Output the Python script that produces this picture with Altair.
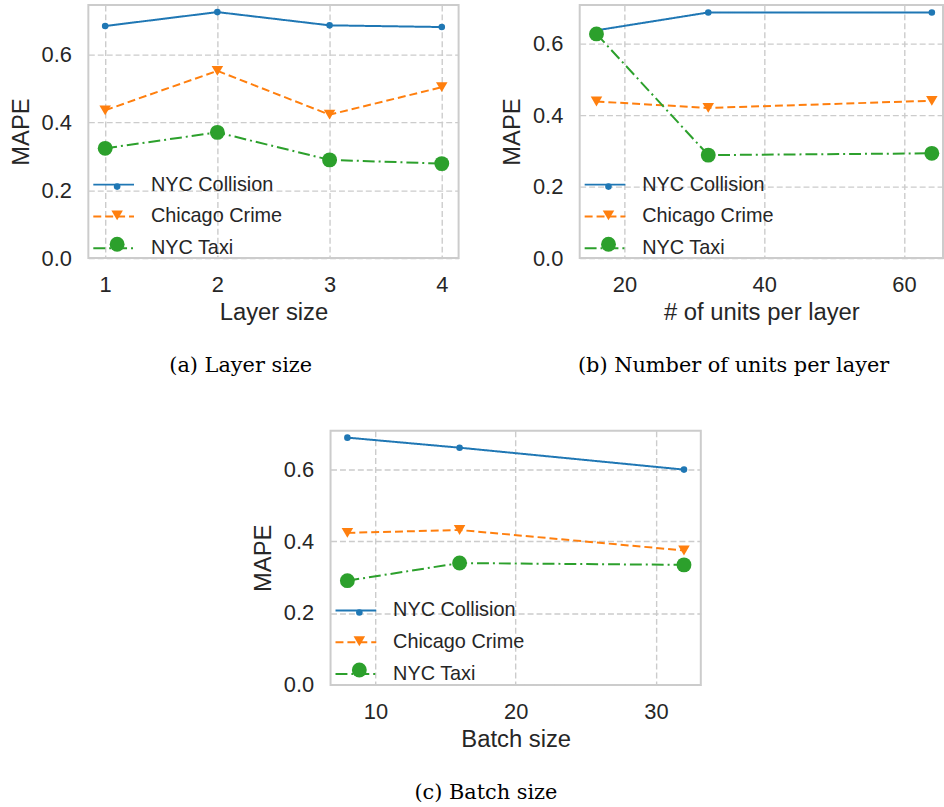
import altair as alt
import pandas as pd

# Series shared by all three panels
SERIES = ["NYC Collision", "Chicago Crime", "NYC Taxi"]
COLORS = ["#1f77b4", "#ff7f0e", "#2ca02c"]
MARKER_KEYS = [s + " marker" for s in SERIES]

# (a) Layer size
layer_sizes = [1, 2, 3, 4]
layer_collision = [0.683, 0.724, 0.685, 0.680]
layer_chicago = [0.435, 0.551, 0.422, 0.503]
layer_taxi = [0.323, 0.370, 0.289, 0.278]

# (b) Number of units per layer
units = [16, 32, 64]
units_collision = [0.637, 0.687, 0.687]
units_chicago = [0.438, 0.420, 0.440]
units_taxi = [0.627, 0.288, 0.293]

# (c) Batch size
batches = [8, 16, 32]
batch_collision = [0.688, 0.660, 0.599]
batch_chicago = [0.423, 0.431, 0.374]
batch_taxi = [0.290, 0.339, 0.334]

Y_TICKS = [0.0, 0.2, 0.4, 0.6]

# marker paths in unit coordinates (scaled by sqrt(size)/2)
TRI_DOWN = "M-1,-0.85L1,-0.85L0,0.85Z"
MARKERS = ["circle", TRI_DOWN, "circle"]
MARKER_SIZES = [44, 225, 196]
DASHES = [[1, 0], [8, 4], [12, 4, 2, 4]]

# legend of line samples (with labels) ...
line_legend = alt.Legend(
    title=None, orient="none", legendX=4, legendY=159.5, padding=0,
    symbolType="stroke", symbolSize=1681, symbolStrokeWidth=2, symbolOpacity=1,
    labelOffset=16, rowPadding=-16, zindex=1,
    labelFont="Liberation Sans", labelFontSize=20, labelColor="#262626",
)
# ... with the series markers drawn on top of the samples (labels kept invisible
# so that each row has the same height as in the line legend)
marker_legend = alt.Legend(
    title=None, orient="none", legendX=19, legendY=173, padding=0,
    symbolOpacity=1, symbolStrokeWidth=0, rowPadding=9,
    labelFont="Liberation Sans", labelFontSize=20, labelOpacity=0,
    zindex=2,
)


def long_table(xs, collision, chicago, taxi):
    rows = []
    for name, key, vals in zip(SERIES, MARKER_KEYS, [collision, chicago, taxi]):
        for x, v in zip(xs, vals):
            rows.append({"x": x, "y": v, "series": name, "marker": key})
    return pd.DataFrame(rows)


def panel(df, xtitle, xdomain, xticks, ymax, caption, width, height, cap_dx):
    x = alt.X("x:Q", title=xtitle,
              scale=alt.Scale(domain=xdomain, nice=False, zero=False),
              axis=alt.Axis(values=xticks, format="d"))
    y = alt.Y("y:Q", title="MAPE",
              scale=alt.Scale(domain=[0, ymax], nice=False, zero=False),
              axis=alt.Axis(values=Y_TICKS, format=".1f"))
    base = alt.Chart(df)
    lines = base.mark_line(strokeWidth=2).encode(
        x=x, y=y,
        color=alt.Color("series:N", scale=alt.Scale(domain=SERIES, range=COLORS),
                        legend=line_legend),
        strokeDash=alt.StrokeDash("series:N",
                                  scale=alt.Scale(domain=SERIES, range=DASHES),
                                  legend=line_legend),
    )
    points = base.mark_point(filled=True, opacity=1, strokeWidth=0).encode(
        x=x, y=y,
        fill=alt.Fill("marker:N", scale=alt.Scale(domain=MARKER_KEYS, range=COLORS),
                      legend=marker_legend),
        shape=alt.Shape("marker:N", scale=alt.Scale(domain=MARKER_KEYS, range=MARKERS),
                        legend=marker_legend),
        size=alt.Size("marker:N", scale=alt.Scale(domain=MARKER_KEYS, range=MARKER_SIZES),
                      legend=marker_legend),
    )
    return alt.layer(lines, points).properties(
        width=width,
        height=height,
        title=alt.TitleParams(
            caption, orient="bottom", anchor="middle", font="DejaVu Serif",
            fontSize=21, fontWeight="normal", color="#000000", offset=31, dx=cap_dx,
        ),
    )


pa = panel(long_table(layer_sizes, layer_collision, layer_chicago, layer_taxi),
           "Layer size", [0.85, 4.15], layer_sizes, 0.745, "(a) Layer size",
           373, 255, -33)
pb = panel(long_table(units, units_collision, units_chicago, units_taxi),
           "# of units per layer", [13.6, 65.6], [20, 40, 60], 0.708,
           "(b) Number of units per layer", 366, 255, -28)
pc = panel(long_table(batches, batch_collision, batch_chicago, batch_taxi),
           "Batch size", [6.8, 33.2], [10, 20, 30], 0.707, "(c) Batch size",
           373, 256, -30)

RESOLVE = dict(color="independent", fill="independent", shape="independent",
               size="independent", strokeDash="independent")
LEGENDS = dict(color="independent", fill="independent", shape="independent",
               size="independent", strokeDash="independent")

top = alt.hconcat(pa, pb, spacing=40).resolve_scale(**RESOLVE).resolve_legend(**LEGENDS)

chart = alt.vconcat(top, pc, spacing=53, center=True).resolve_scale(
    **RESOLVE
).resolve_legend(**LEGENDS).properties(
    padding={"left": 8, "top": 1, "right": 0, "bottom": 0},
    background="white",
).configure_view(
    stroke="#cccccc", strokeWidth=2
).configure_axis(
    grid=True, gridColor="#cccccc", gridDash=[6, 3], gridWidth=1.4,
    domain=False, ticks=False,
    labelFont="Liberation Sans", labelFontSize=22, labelColor="#262626", labelPadding=17,
    titleFont="Liberation Sans", titleFontSize=24, titleFontWeight="normal",
    titleColor="#262626", titlePadding=5,
).configure_axisY(titlePadding=8)

chart.save("out.html", embed_options={"renderer": "svg", "actions": False})
